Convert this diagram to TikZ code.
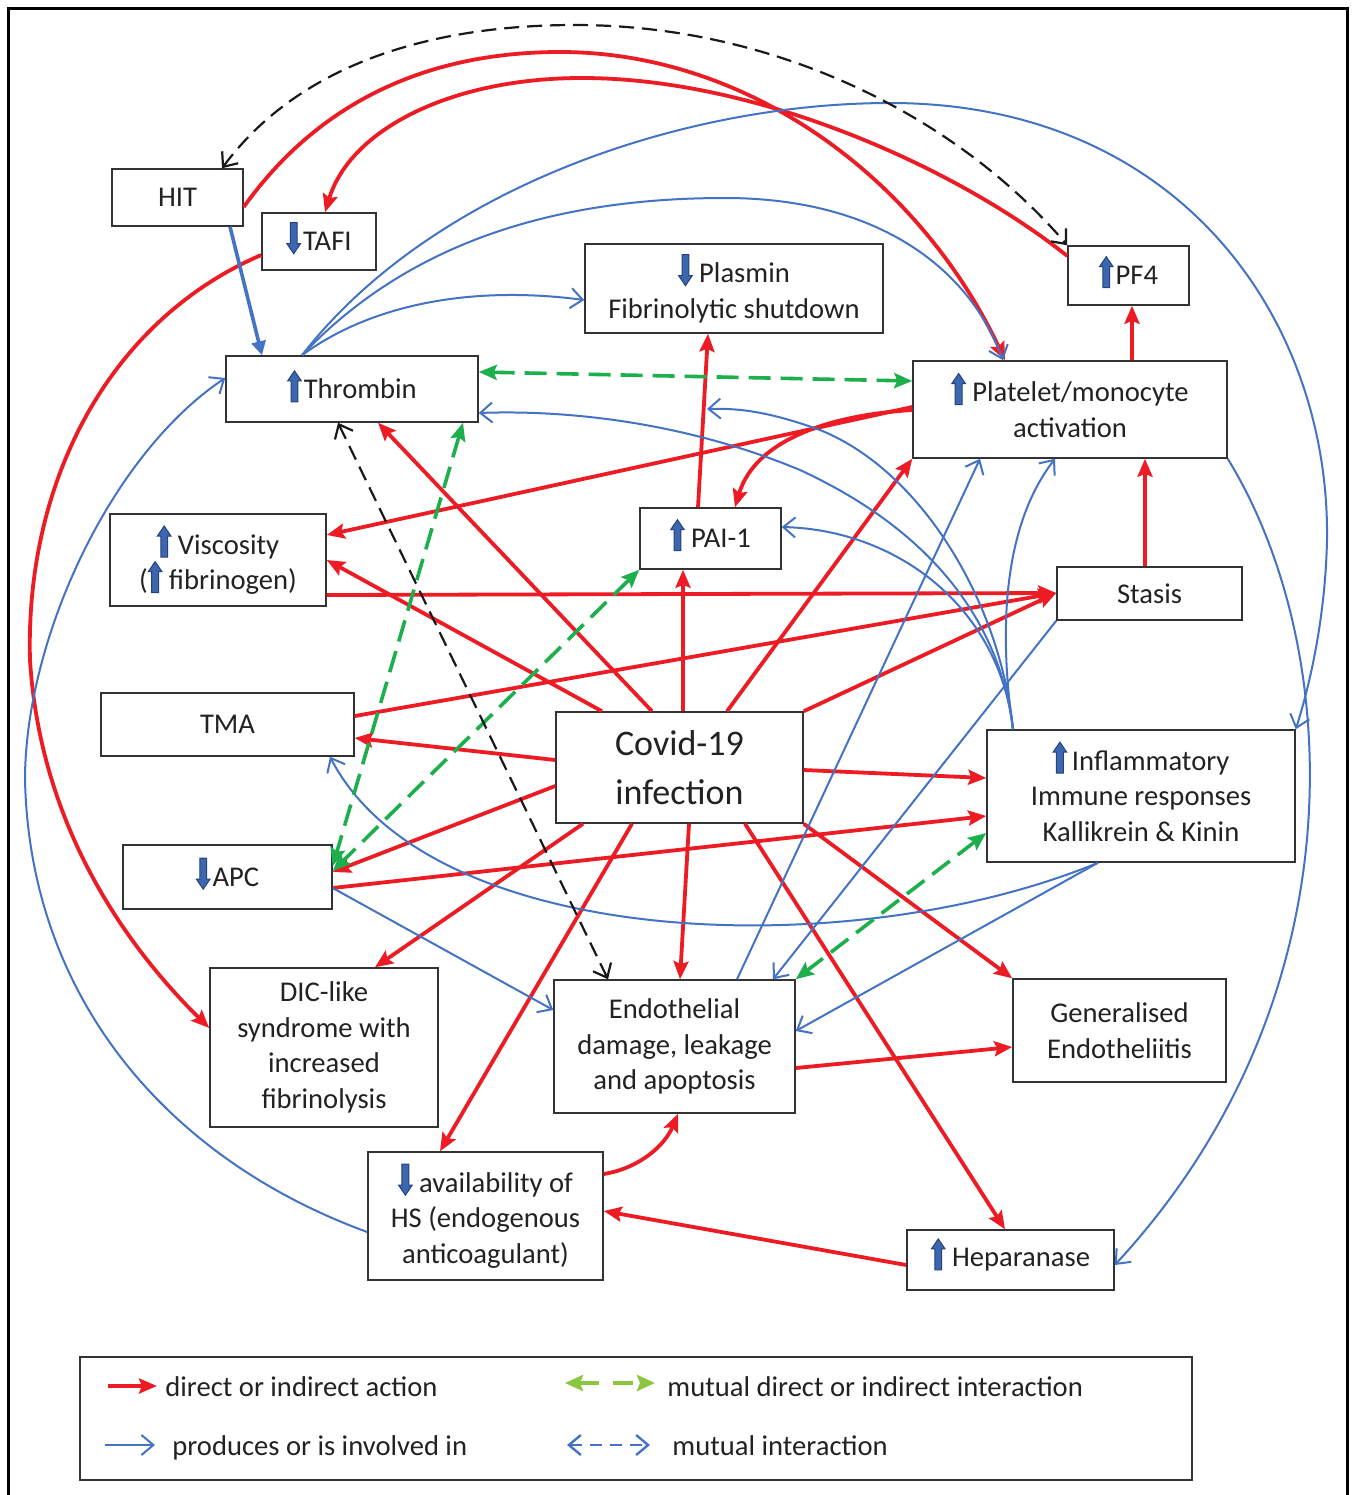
\documentclass[tikz,border=0pt]{standalone}
\usepackage{fontspec}
\setmainfont{Carlito}
\usetikzlibrary{arrows.meta}
\definecolor{cred}{HTML}{ED1C24}
\definecolor{cblue}{HTML}{4472C4}
\definecolor{cgreen}{HTML}{1DAF4B}
\definecolor{clgreen}{HTML}{8CC63F}
\definecolor{arrfill}{HTML}{3C66AE}
\definecolor{arrdraw}{HTML}{22437F}
\definecolor{boxc}{HTML}{333333}
\definecolor{textc}{HTML}{222222}
\newcommand\UAn{\tikz[baseline=0pt]{\filldraw[fill=arrfill,draw=arrdraw,line width=0.5pt,solid] (-1.7pt,-1.5pt) -- (-1.7pt,9pt) -- (-3.4pt,9pt) -- (0pt,14pt) -- (3.4pt,9pt) -- (1.7pt,9pt) -- (1.7pt,-1.5pt) -- cycle;}}
\newcommand\DAn{\tikz[baseline=0pt]{\filldraw[fill=arrfill,draw=arrdraw,line width=0.5pt,solid] (-1.7pt,14pt) -- (-1.7pt,3.5pt) -- (-3.4pt,3.5pt) -- (0pt,-1.5pt) -- (3.4pt,3.5pt) -- (1.7pt,3.5pt) -- (1.7pt,14pt) -- cycle;}}
\newcommand\UA{\smash{\UAn}}
\newcommand\DA{\smash{\DAn}}
\begin{document}
\begin{tikzpicture}[x=0.5pt,y=-0.5pt,
  box/.style={draw=boxc, line width=0.75pt, inner sep=0pt, align=center, text=textc, font=\fontsize{14.3}{17.8}\selectfont},
  lt/.style={anchor=base west, inner sep=0pt, text=textc, font=\fontsize{14.3}{17.8}\selectfont},
  rline/.style={draw=cred, line width=1.9pt, -{Stealth[length=9pt,width=7.5pt,inset=1.5pt]}},
  bline/.style={draw=cblue, line width=1pt, -{Straight Barb[length=6pt,width=10pt]}},
  bthick/.style={draw=cblue, line width=1.8pt, -{Triangle[length=7pt,width=7pt]}},
  gline/.style={draw=cgreen, line width=1.8pt, dash pattern=on 11pt off 5pt, {Stealth[length=9pt,width=7.5pt,inset=1.5pt]}-{Stealth[length=9pt,width=7.5pt,inset=1.5pt]}},
  lgline/.style={draw=clgreen, line width=2pt, dash pattern=on 10pt off 7pt, {Stealth[length=9pt,width=8pt,inset=1.5pt]}-{Stealth[length=9pt,width=8pt,inset=1.5pt]}},
  kline/.style={draw=black!90, line width=1.1pt, dash pattern=on 7.5pt off 4pt, {Straight Barb[length=6pt,width=10pt]}-{Straight Barb[length=6pt,width=10pt]}},
  bdline/.style={draw=cblue, line width=1.2pt, dash pattern=on 6pt off 4pt, {Straight Barb[length=6pt,width=10pt]}-{Straight Barb[length=6pt,width=10pt]}}
]
\useasboundingbox (0,0) rectangle (1355,1495);
\fill[white] (0,0) rectangle (1355,1495);
\draw[line width=1.5pt] (8,1495) -- (8,8) -- (1347,8) -- (1347,1495);

% nodes
\node[box, minimum width=65.5pt, minimum height=28.5pt] (hit) at (177.5,197.5) {HIT};
\node[box, minimum width=57pt, minimum height=28.5pt] (tafi) at (319,241.5) {\DA\kern1pt TAFI};
\node[box, minimum width=149pt, minimum height=44.5pt] (plas) at (734,288.5) {\DAn\ Plasmin\\Fibrinolytic shutdown};
\node[box, minimum width=60.5pt, minimum height=29.5pt] (pf4) at (1128.5,275.5) {\UA\kern1pt PF4};
\node[box, minimum width=126pt, minimum height=33pt] (thr) at (352,389) {\UA\kern1pt Thrombin};
\node[box, minimum width=157pt, minimum height=48.5pt] (plt) at (1070,409.5) {\UA\ Platelet/monocyte\\activation};
\node[box, minimum width=108pt, minimum height=46pt] (visc) at (218,560) {\UAn\ Viscosity\\(\UAn\ fibrinogen)};
\node[box, minimum width=70.5pt, minimum height=30.5pt] (pai) at (710.5,538.5) {\UA\ PAI-1};
\node[box, minimum width=92.5pt, minimum height=26.5pt] (stasis) at (1149.5,593.5) {Stasis};
\node[box, minimum width=126.5pt, minimum height=31.5pt] (tma) at (227.5,724.5) {TMA};
\node[box, minimum width=123.5pt, minimum height=55.5pt, font=\fontsize{18}{24.5}\selectfont] (cov) at (679.5,767.5) {Covid-19\\infection};
\node[box, minimum width=154pt, minimum height=66pt] (inf) at (1141,796) {\UA\,Inflammatory\\Immune responses\\Kallikrein \& Kinin};
\node[box, minimum width=104.5pt, minimum height=32pt] (apc) at (227.5,877) {\DA\kern1pt APC};
\node[box, minimum width=114pt, minimum height=79.5pt] (dic) at (324,1047.5) {DIC-like\\syndrome with\\increased\\fibrinolysis};
\node[box, minimum width=120.5pt, minimum height=66.5pt] (endo) at (674.5,1046.5) {Endothelial\\damage, leakage\\and apoptosis};
\node[box, minimum width=106.5pt, minimum height=51.5pt] (gen) at (1119.5,1030.5) {Generalised\\Endotheliitis};
\node[box, minimum width=117.5pt, minimum height=64pt] (hs) at (485.5,1216) {\DAn\ availability of\\HS (endogenous\\anticoagulant)};
\node[box, minimum width=103.5pt, minimum height=30pt] (hep) at (1010.5,1260) {\UA\ Heparanase};

% red connectors
\draw[rline] (cov.north -| 652,0) -- (thr.south -| 378,0);
\draw[rline] (cov.north -| 602,0) -- (visc.east |- 0,560);
\draw[rline] (cov.north -| 683,0) -- (pai.south -| 683,0);
\draw[rline] (cov.north -| 727,0) -- (plt.south west);
\draw[rline] (cov.north east) -- (stasis.west |- 0,593);
\draw[rline] (cov.west |- 0,760) -- (tma.east |- 0,738);
\draw[rline] (cov.west |- 0,786) -- (apc.east |- 0,872);
\draw[rline] (cov.south -| 583,0) -- (dic.north -| 375,0);
\draw[rline] (cov.south -| 632,0) -- (hs.north -| 440,0);
\draw[rline] (cov.south -| 689,0) -- (endo.north -| 680,0);
\draw[rline] (cov.south -| 745,0) -- (hep.north -| 1005,0);
\draw[rline] (cov.south east) -- (gen.north west);
\draw[rline] (cov.east |- 0,770) -- (inf.west |- 0,778);
\draw[rline] (apc.east |- 0,888) -- (inf.west |- 0,816);
\draw[rline] (tma.east |- 0,716) -- (stasis.west |- 0,593);
\draw[rline] (visc.east |- 0,595) -- (stasis.west |- 0,593);
\draw[rline] (plt.west |- 0,407) -- (visc.east |- 0,535);
\draw[rline] (plt.west |- 0,410) .. controls (830,415) and (755,440) .. (pai.north -| 735,0);
\draw[rline] (pai.north -| 698,0) -- (plas.south -| 708,0);
\draw[rline] (stasis.north -| 1145,0) -- (plt.south -| 1145,0);
\draw[rline] (plt.north -| 1132,0) -- (pf4.south -| 1132,0);
\draw[rline] (endo.east |- 0,1068) -- (gen.west |- 0,1047);
\draw[rline] (hep.west |- 0,1265) -- (hs.east |- 0,1211);
\draw[rline] (hs.east |- 0,1174) .. controls (640,1168) and (665,1145) .. (endo.south -| 678,0);
\draw[rline] (hit.east |- 0,207) .. controls (320,100) and (430,52) .. (560,52) .. controls (750,52) and (920,180) .. (plt.north -| 1005,0);
\draw[rline] (pf4.west |- 0,256) .. controls (960,170) and (760,78) .. (582,78) .. controls (450,78) and (350,130) .. (tafi.north -| 325,0);
\draw[rline] (tafi.west |- 0,255) .. controls (110,320) and (25,480) .. (30,660) .. controls (40,820) and (120,940) .. (dic.west |- 0,1028);

% blue connectors
\draw[bthick] (hit.south -| 230,0) -- (thr.north -| 262,0);
\draw[bline] (thr.north -| 302,0) .. controls (370,305) and (470,285) .. (plas.west |- 0,300);
\draw[bline] (thr.north -| 302,0) .. controls (420,230) and (580,198) .. (725,198) .. controls (880,198) and (970,270) .. (plt.north -| 1003,0);
\draw[bline] (thr.north -| 302,0) .. controls (430,190) and (680,103) .. (890,103) .. controls (1180,103) and (1330,320) .. (1327,540) .. controls (1325,630) and (1305,700) .. (inf.north east);
\draw[bline] (hs.west |- 0,1232) .. controls (170,1160) and (30,1000) .. (25,780) .. controls (25,640) and (110,455) .. (thr.west |- 0,378);
\draw[bline] (inf.north -| 1013,0) .. controls (1000,620) and (930,530) .. (800,470) .. controls (680,420) and (560,410) .. (thr.east |- 0,413);
\coordinate (pp) at (707,409);
\draw[bline] (inf.north -| 1013,0) .. controls (1000,600) and (920,470) .. (820,430) .. controls (770,412) and (740,408) .. (pp);
\draw[bline] (inf.north -| 1013,0) .. controls (1000,610) and (900,530) .. (pai.east |- 0,527);
\draw[bline] (inf.north -| 1013,0) .. controls (1000,640) and (1000,530) .. (plt.south -| 1055,0);
\draw[bline] (endo.north -| 737,0) -- (plt.south -| 980,0);
\draw[bline] (stasis.south west) -- (endo.north -| 773,0);
\draw[bline] (inf.south -| 1098,0) -- (endo.east |- 0,1031);
\draw[bline] (inf.south -| 1098,0) .. controls (850,965) and (430,950) .. (tma.south -| 330,0);
\draw[bline] (apc.east |- 0,888) -- (endo.west |- 0,1010);
\draw[bline] (plt.south east) .. controls (1345,650) and (1360,1000) .. (hep.east |- 0,1265);

% green dashed
\draw[gline] (thr.east |- 0,372) -- (plt.west |- 0,381);
\draw[gline] (thr.south -| 463,0) -- (apc.east |- 0,866);
\draw[gline] (pai.south west) -- (apc.east |- 0,871);
\draw[gline] (inf.west |- 0,833) -- (endo.north east);

% black dashed
\draw[kline] (thr.south -| 338,0) -- (endo.north -| 608,0);
\draw[kline] (hit.north -| 222,0) .. controls (310,50) and (460,25) .. (575,25) .. controls (780,25) and (960,120) .. (pf4.north west);

% legend
\node[draw=boxc, line width=0.75pt, minimum width=556pt, minimum height=61.5pt, inner sep=0pt] (leg) at (636,1418.5) {};
\coordinate (l1a) at (108,1386); \coordinate (l1b) at (157,1386);
\draw[rline] (l1a) -- (l1b);
\node[lt] (t1) at (165,1396) {direct or indirect action};
\coordinate (l2a) at (565,1383); \coordinate (l2b) at (655,1383);
\draw[lgline] (l2a) -- (l2b);
\node[lt] (t2) at (667,1396) {mutual direct or indirect interaction};
\coordinate (l3a) at (105,1445); \coordinate (l3b) at (155,1445);
\draw[bline] (l3a) -- (l3b);
\node[lt] (t3) at (172,1455) {produces or is involved in};
\coordinate (l4a) at (567,1445); \coordinate (l4b) at (650,1445);
\draw[bdline] (l4a) -- (l4b);
\node[lt] (t4) at (672,1455) {mutual interaction};
\end{tikzpicture}
\end{document}
